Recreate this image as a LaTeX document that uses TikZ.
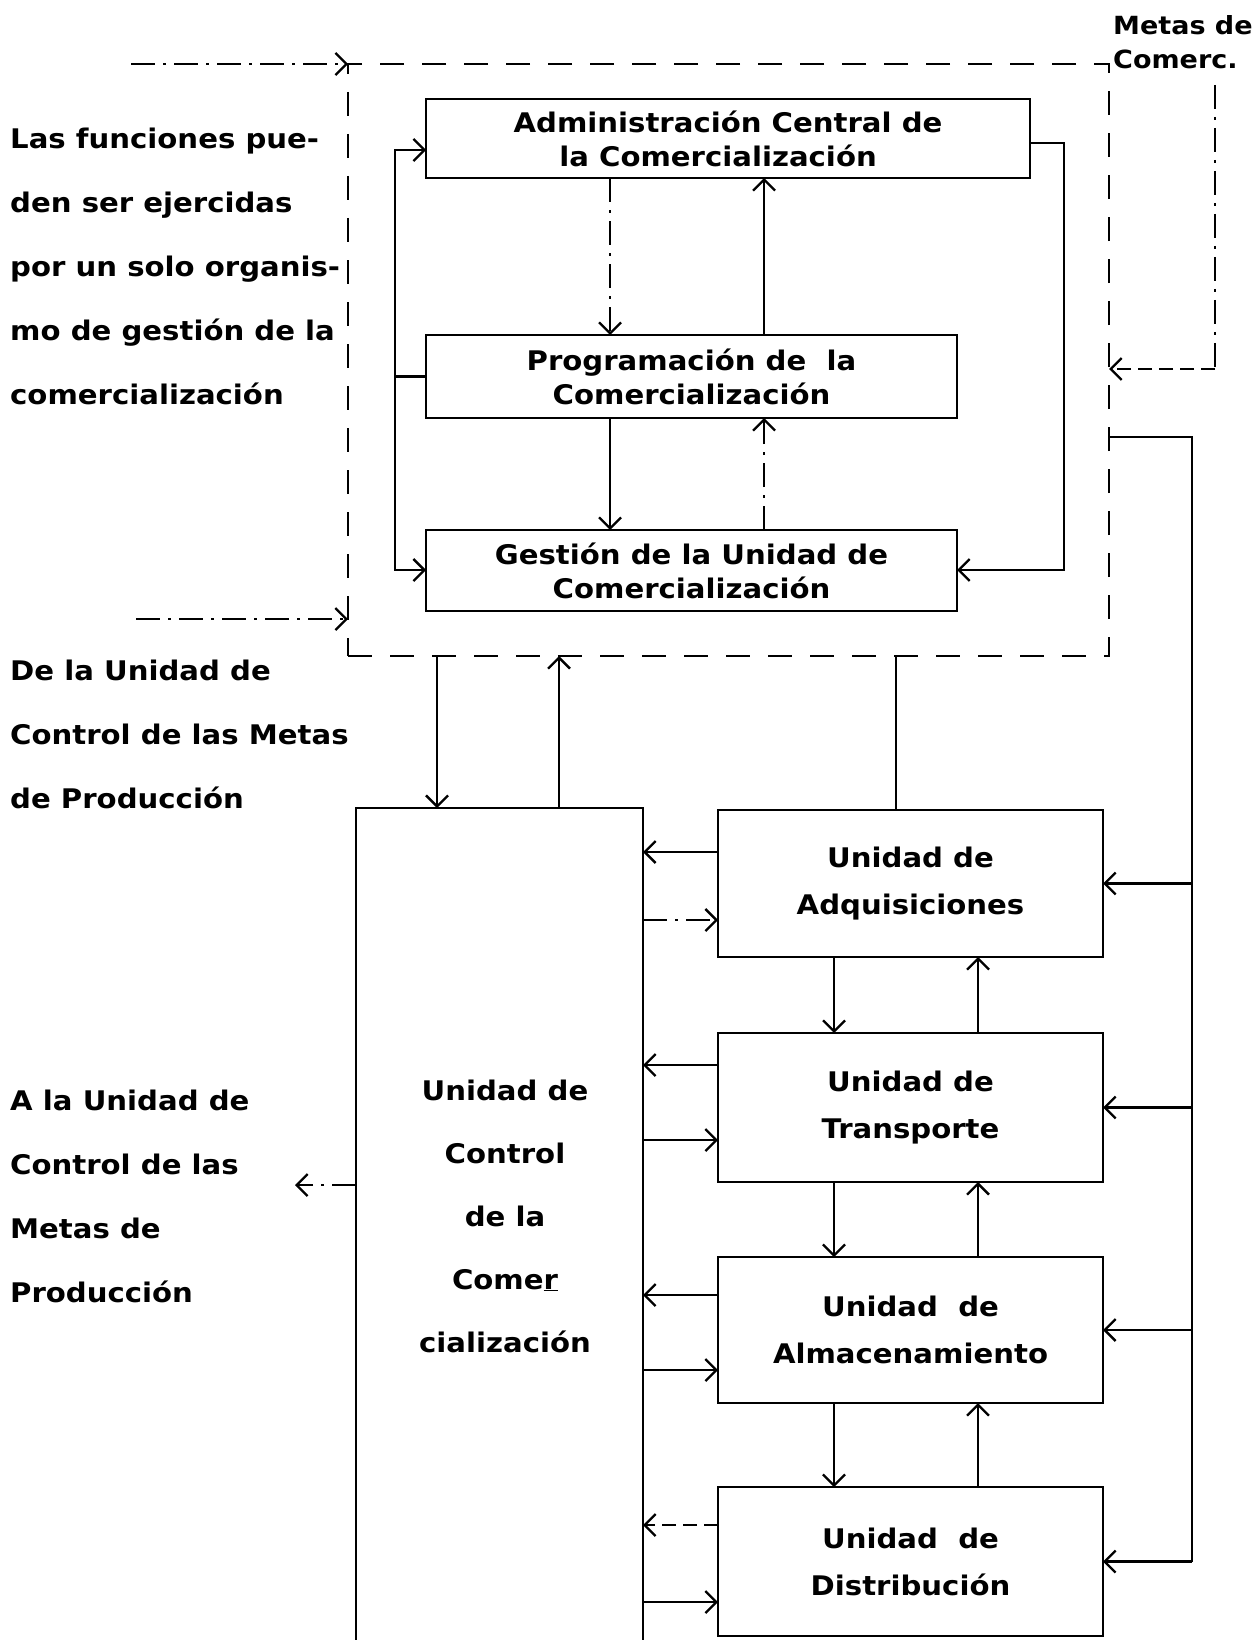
\documentclass[tikz,border=0pt]{standalone}
\usepackage{fontspec}
\setmainfont{DejaVu Sans}[FakeStretch=1.08]
\usetikzlibrary{arrows.meta,calc}
\begin{document}
\begin{tikzpicture}[x=1pt,y=-1pt,
  ln/.style={line width=2.9pt},
  arr/.style={ln,-{Straight Barb[length=11pt,width=22pt,line width=2.3pt]}},
  both/.style={ln,{Straight Barb[length=11pt,width=22pt,line width=2.3pt]}-{Straight Barb[length=11pt,width=22pt,line width=2.3pt]}},
  dd/.style={dash pattern=on 24pt off 8pt on 3pt off 8pt},
  dsh/.style={dash pattern=on 24pt off 18pt},
  sdsh/.style={dash pattern=on 14pt off 7pt},
  box/.style={draw,ln,inner sep=0pt,outer sep=0pt,align=center,font=\bfseries\fontsize{27}{34}\selectfont},
  ubox/.style={box,font=\bfseries\fontsize{27}{47}\selectfont},
  ltxt/.style={inner sep=0pt,align=left,anchor=west,font=\bfseries\fontsize{27}{64}\selectfont}]
\fill[white] (0,0) rectangle (1255,1640);
\useasboundingbox (0,0) rectangle (1255,1640);

% upper boxes
\node[draw,ln,dsh,minimum width=761pt,minimum height=592pt,inner sep=0pt,outer sep=0pt] (outer) at (728.5,360) {};
\node[box,minimum width=604pt,minimum height=79pt] (admin) at (728,138.5) {Administración Central de\\la Comercialización\hspace*{20pt}};
\node[box,minimum width=531pt,minimum height=83pt] (prog) at (691.5,376.5) {Programación de\ \ la\\Comercialización};
\node[box,minimum width=531pt,minimum height=81pt] (gest) at (691.5,570.5) {Gestión de la Unidad de\\Comercialización};

% lower boxes
\node[draw,ln,minimum width=287pt,minimum height=842pt,inner sep=0pt,outer sep=0pt] (ctrl) at (499.5,1229) {};
\node[inner sep=0pt,align=center,font=\bfseries\fontsize{27}{63}\selectfont] (ctxt) at (505,1216) {Unidad de\\Control\\de la\\Come\underline{r}\\cialización};
\node[ubox,minimum width=385pt,minimum height=147pt] (adq) at (910.5,883.5) {Unidad de\\Adquisiciones};
\node[ubox,minimum width=385pt,minimum height=149pt] (trans) at (910.5,1107.5) {Unidad de\\Transporte};
\node[ubox,minimum width=385pt,minimum height=146pt] (alm) at (910.5,1330) {Unidad\ \ de\\Almacenamiento};
\node[ubox,minimum width=385pt,minimum height=149pt] (dist) at (910.5,1561.5) {Unidad\ \ de\\Distribución};

% texts
\node[ltxt] (t1) at (10,266) {Las funciones pue-\\den ser ejercidas\\por un solo organis-\\mo de gestión de la\\comercialización};
\node[ltxt] (t2) at (10,734) {De la Unidad de\\Control de las Metas\\de Producción};
\node[ltxt] (t3) at (10,1196) {A la Unidad de\\Control de las\\Metas de\\Producción};
\node[inner sep=0pt,align=left,anchor=west,font=\bfseries\fontsize{25}{34}\selectfont] (metas) at (1113,42) {Metas de\\Comerc.};

% admin / prog / gest
\coordinate (xa) at (610,0); \coordinate (xb) at (764,0);
\draw[arr,dd] (admin.south -| xa) -- (prog.north -| xa);
\draw[arr] (prog.north -| xb) -- (admin.south -| xb);
\draw[arr] (prog.south -| xa) -- (gest.north -| xa);
\draw[arr,dd] (gest.north -| xb) -- (prog.south -| xb);

\coordinate (lT) at (395,150); \coordinate (lB) at (395,570);
\draw[ln] (prog.west) -- (prog.west -| lT);
\draw[both] (admin.west |- lT) -- (lT) -- (lB) -- (gest.west |- lB);
\coordinate (rT) at (1064,143); \coordinate (rB) at (1064,570);
\draw[arr] (admin.east |- rT) -- (rT) -- (rB) -- (gest.east |- rB);

% inputs to the dashed frame
\coordinate (inT) at (131,64); \coordinate (inB) at (136,619);
\draw[arr,dd] (inT) -- (outer.north west);
\draw[arr,dd] (inB) -- (outer.west |- inB);

\coordinate (mx) at (1215,0); \coordinate (mC) at (1215,369);
\draw[ln,dd] ($(metas.south -| mx)+(0,16)$) -- (mC);
\draw[arr,sdsh] (mC) -- (outer.east |- mC);

% right bus
\coordinate (bT) at (1192,437);
\draw[ln] (outer.east |- bT) -- (bT) -- (bT |- dist.east);
\foreach \n in {adq,trans,alm,dist} \draw[arr] (bT |- \n.east) -- (\n.east);

% frame to control
\coordinate (x1) at (437,0); \coordinate (x2) at (559,0); \coordinate (x3) at (896,0);
\draw[arr] (outer.south -| x1) -- (ctrl.north -| x1);
\draw[arr] (ctrl.north -| x2) -- (outer.south -| x2);
\draw[ln] (outer.south -| x3) -- (adq.north -| x3);

% between units
\coordinate (xd) at (834,0); \coordinate (xu) at (978,0);
\draw[arr] (adq.south -| xd) -- (trans.north -| xd);
\draw[arr] (trans.north -| xu) -- (adq.south -| xu);
\draw[arr] (trans.south -| xd) -- (alm.north -| xd);
\draw[arr] (alm.north -| xu) -- (trans.south -| xu);
\draw[arr] (alm.south -| xd) -- (dist.north -| xd);
\draw[arr] (dist.north -| xu) -- (alm.south -| xu);

% units to control
\coordinate (y1) at (0,852); \coordinate (y2) at (0,920);
\coordinate (y3) at (0,1065); \coordinate (y4) at (0,1140);
\coordinate (y5) at (0,1295); \coordinate (y6) at (0,1370);
\coordinate (y7) at (0,1525); \coordinate (y8) at (0,1602);
\draw[arr] (adq.west |- y1) -- (ctrl.east |- y1);
\draw[arr,dd] (ctrl.east |- y2) -- (adq.west |- y2);
\draw[arr] (trans.west |- y3) -- (ctrl.east |- y3);
\draw[arr] (ctrl.east |- y4) -- (trans.west |- y4);
\draw[arr] (alm.west |- y5) -- (ctrl.east |- y5);
\draw[arr] (ctrl.east |- y6) -- (alm.west |- y6);
\draw[arr,sdsh] (dist.west |- y7) -- (ctrl.east |- y7);
\draw[arr] (ctrl.east |- y8) -- (dist.west |- y8);

\coordinate (cl) at (295,1185);
\draw[arr,dd] (ctrl.west |- cl) -- (cl);
\end{tikzpicture}
\end{document}
